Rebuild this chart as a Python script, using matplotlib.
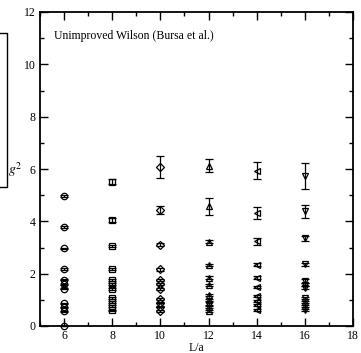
import matplotlib
matplotlib.use('Agg')
import matplotlib.pyplot as plt
from matplotlib.lines import Line2D

plt.rcParams['font.family'] = ['Liberation Serif', 'DejaVu Serif']
plt.rcParams['mathtext.fontset'] = 'stix'

# L/a values and the marker used for each lattice size
L_vals = [6, 8, 10, 12, 14, 16]
markers = ['o', 's', 'D', '^', '<', 'v']

# g^2 values, one list per L/a
g2_L6 = [4.97, 3.77, 2.97, 2.17, 1.76, 1.60, 1.43, 0.86, 0.71, 0.56, 0.0]
g2_L8 = [5.52, 4.05, 3.07, 2.17, 1.76, 1.60, 1.42, 1.07, 0.92, 0.76, 0.60]
g2_L10 = [6.09, 4.43, 3.10, 2.17, 1.77, 1.59, 1.43, 1.04, 0.89, 0.74, 0.58]
g2_L12 = [6.12, 4.58, 3.22, 2.33, 1.85, 1.58, 1.18, 1.00, 0.86, 0.72, 0.57]
g2_L14 = [5.94, 4.32, 3.24, 2.35, 1.84, 1.49, 1.16, 0.97, 0.79, 0.61]
g2_L16 = [5.74, 4.38, 3.35, 2.36, 1.72, 1.58, 1.47, 1.06, 0.93, 0.76, 0.61]

err_L6 = [0.05, 0.04, 0.03, 0.03, 0.02, 0.02, 0.02, 0.02, 0.02, 0.02, 0.0]
err_L8 = [0.10, 0.06, 0.04, 0.04, 0.03, 0.03, 0.03, 0.03, 0.03, 0.03, 0.03]
err_L10 = [0.42, 0.14, 0.06, 0.05, 0.04, 0.04, 0.04, 0.03, 0.03, 0.03, 0.03]
err_L12 = [0.25, 0.33, 0.06, 0.05, 0.05, 0.04, 0.04, 0.04, 0.04, 0.03, 0.03]
err_L14 = [0.31, 0.22, 0.14, 0.07, 0.06, 0.05, 0.04, 0.04, 0.04, 0.03]
err_L16 = [0.50, 0.24, 0.10, 0.06, 0.06, 0.05, 0.05, 0.04, 0.04, 0.04, 0.04]

g2_all = [g2_L6, g2_L8, g2_L10, g2_L12, g2_L14, g2_L16]
err_all = [err_L6, err_L8, err_L10, err_L12, err_L14, err_L16]

fig = plt.figure(figsize=(3.61, 3.53), dpi=100)
ax = fig.add_axes([40 / 361, 27 / 353, 313 / 361, 314 / 353])

for L, m, g2, err in zip(L_vals, markers, g2_all, err_all):
    ax.errorbar([L] * len(g2), g2, yerr=err, fmt=m, mfc='none', mec='black',
                ms=4.6 if m != 'D' else 4.2, mew=0.9, ecolor='black', elinewidth=0.9,
                capsize=3.2, capthick=0.9, clip_on=False, zorder=3)

ax.set_xlim(5, 18)
ax.set_ylim(0, 12)
ax.set_xticks(range(6, 19, 2))
ax.set_xticks(range(5, 19), minor=True)
ax.set_yticks(range(0, 13, 2))
ax.set_yticks(range(0, 13), minor=True)
ax.tick_params(which='both', direction='in', top=True, right=True, labelsize=8.5, width=1)
ax.tick_params(which='major', length=6, pad=3)
ax.tick_params(which='minor', length=3)
for s in ax.spines.values():
    s.set_linewidth(1.3)

ax.set_xlabel('L/a', fontsize=8.5, labelpad=0)
ax.text(0.044, 0.915, 'Unimproved Wilson (Bursa et al.)', transform=ax.transAxes, fontsize=8.5)

# y label and the remains of a frame at the left edge
fig.text(8 / 361, 1 - 170 / 353, r'$g^2$', fontsize=10, va='center', ha='left')
box = Line2D([0, 6.5 / 361, 6.5 / 361, 0], [1 - 33 / 353, 1 - 33 / 353, 1 - 187 / 353, 1 - 187 / 353],
             transform=fig.transFigure, color='black', lw=1)
fig.add_artist(box)

fig.savefig('out.png', dpi=100)
